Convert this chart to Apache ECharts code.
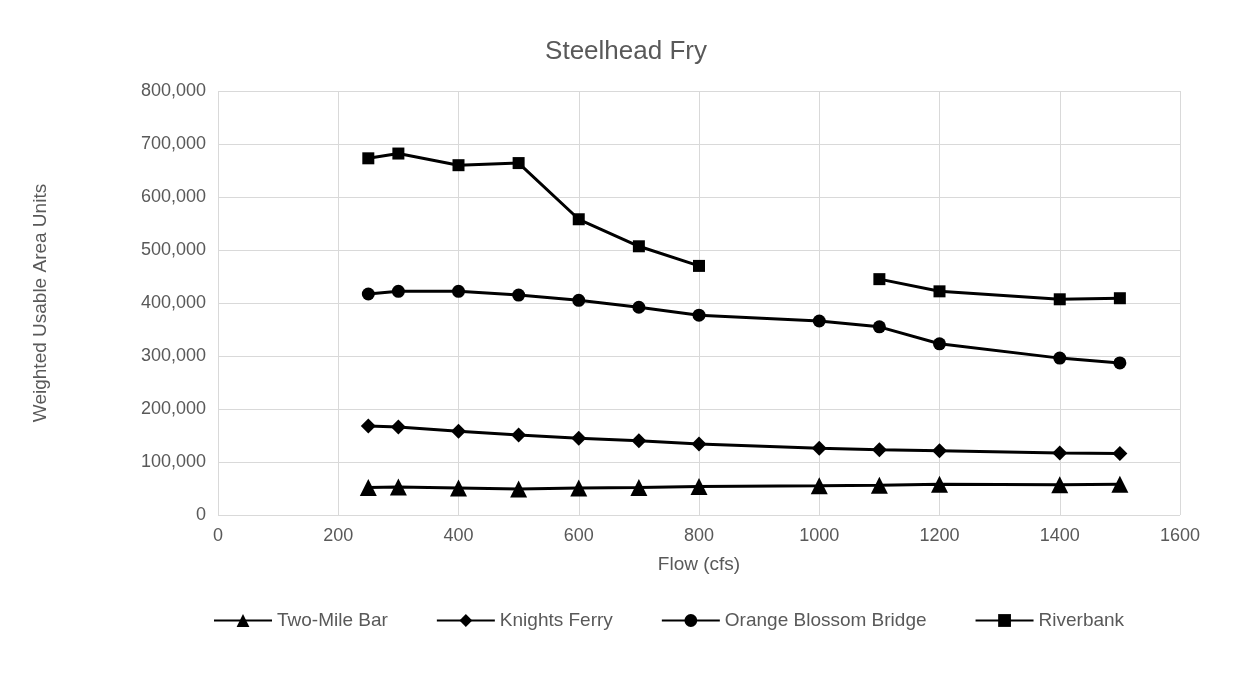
<!DOCTYPE html>
<html>
<head>
<meta charset="UTF-8">
<script src="https://cdn.jsdelivr.net/npm/echarts@6/dist/echarts.min.js"></script>
</head>
<body style="margin:0">
<div id="main" style="width:1252px;height:674px;"></div>
<script>
var flows = [250, 300, 400, 500, 600, 700, 800, 1000, 1100, 1200, 1400, 1500];
var twoMile = [52000, 53000, 51000, 49000, 51000, 52000, 54000, 55000, 56000, 58000, 57000, 58000];
var knights = [168000, 166000, 158000, 151000, 145000, 140000, 134000, 126000, 123000, 121000, 117000, 116000];
var orange = [417000, 422000, 422000, 415000, 405000, 392000, 377000, 366000, 355000, 323000, 296000, 287000];
var riverbank = [673000, 682000, 660000, 664000, 558000, 507000, 470000, null, 445000, 422000, 407000, 409000];

function pairs(vals) {
    return flows.map(function (f, i) { return [f, vals[i]]; });
}
function mk(name, vals, symbol, size) {
    return {
        name: name, type: 'line', data: pairs(vals), symbol: symbol, symbolSize: size,
        connectNulls: false,
        lineStyle: {color: '#000', width: 3}, itemStyle: {color: '#000'}
    };
}
var chart = echarts.init(document.getElementById('main'));
chart.setOption({
    textStyle: {fontFamily: 'Liberation Sans'},
    title: {text: 'Steelhead Fry', left: 'center', top: 34,
        textStyle: {fontSize: 26, fontWeight: 'normal', color: '#595959'}},
    grid: {left: 218, right: 72, top: 91, bottom: 159},
    xAxis: {type: 'value', min: 0, max: 1600, interval: 200, name: 'Flow (cfs)',
        nameLocation: 'middle', nameGap: 40, nameTextStyle: {fontSize: 19, color: '#595959'},
        axisLine: {show: false}, axisTick: {show: false},
        axisLabel: {fontSize: 18, color: '#595959', margin: 12,
            formatter: function (v) { return String(v); }},
        splitLine: {lineStyle: {color: '#d9d9d9'}}},
    yAxis: {type: 'value', min: 0, max: 800000, interval: 100000,
        name: 'Weighted Usable Area Units', nameLocation: 'middle', nameGap: 168,
        nameTextStyle: {fontSize: 19, color: '#595959'},
        axisLine: {show: false}, axisTick: {show: false},
        axisLabel: {fontSize: 18, color: '#595959', margin: 12,
            formatter: function (v) { return v.toLocaleString('en-US'); }},
        splitLine: {lineStyle: {color: '#d9d9d9'}}},
    legend: {top: 606, left: 208, itemWidth: 58, itemHeight: 16, itemGap: 48,
        textStyle: {fontSize: 19, color: '#595959'}},
    series: [
        mk('Two-Mile Bar', twoMile, 'triangle', 17),
        mk('Knights Ferry', knights, 'diamond', 15),
        mk('Orange Blossom Bridge', orange, 'circle', 13),
        mk('Riverbank', riverbank, 'rect', 12)
    ]
});
</script>
</body>
</html>
